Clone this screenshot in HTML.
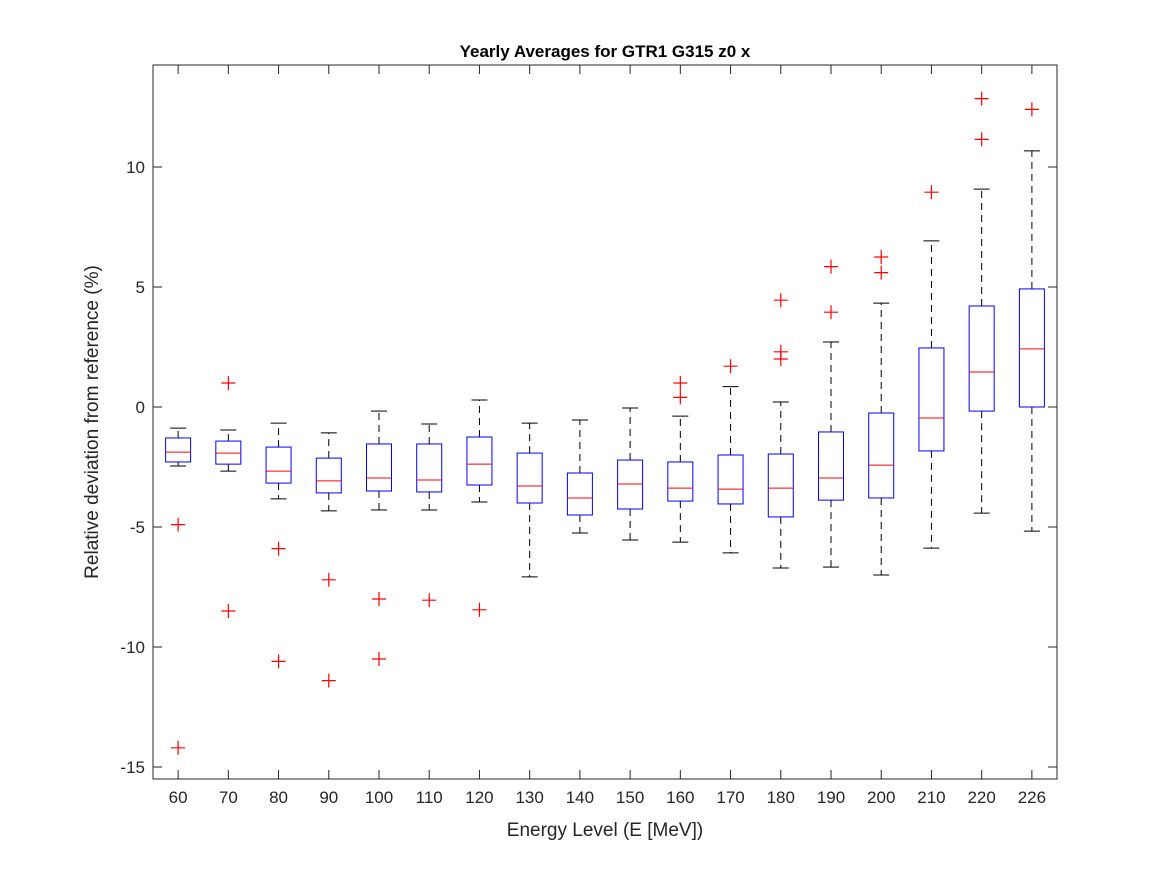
<!DOCTYPE html>
<html><head><meta charset="utf-8"><style>
body{margin:0;background:#fff;}
svg{display:block;font-family:"Liberation Sans",sans-serif;}
</style></head><body>
<svg id="chart" width="1167" height="875">
<rect width="1167" height="875" fill="#fff"/>
<text x="605" y="57" text-anchor="middle" font-size="17" font-weight="bold" fill="#000">Yearly Averages for GTR1 G315 z0 x</text>
<g id="plot"></g>
<text x="605" y="836" text-anchor="middle" font-size="19" fill="#262626">Energy Level (E [MeV])</text>
<text transform="translate(98,422) rotate(-90)" text-anchor="middle" font-size="19" fill="#262626">Relative deviation from reference (%)</text>
</svg>
<script>
const categories=["60","70","80","90","100","110","120","130","140","150","160","170","180","190","200","210","220","226"];
const whiskerLow=[-2.46,-2.67,-3.83,-4.33,-4.29,-4.29,-3.96,-7.08,-5.25,-5.54,-5.63,-6.08,-6.71,-6.67,-7.0,-5.88,-4.42,-5.17];
const q1=[-2.29,-2.38,-3.17,-3.58,-3.5,-3.54,-3.25,-4.0,-4.5,-4.25,-3.92,-4.04,-4.58,-3.88,-3.79,-1.83,-0.17,0.0];
const medians=[-1.88,-1.92,-2.67,-3.08,-2.96,-3.04,-2.38,-3.29,-3.79,-3.21,-3.38,-3.42,-3.38,-2.96,-2.42,-0.46,1.46,2.42];
const q3=[-1.29,-1.42,-1.67,-2.13,-1.54,-1.54,-1.25,-1.92,-2.75,-2.21,-2.29,-2.0,-1.96,-1.04,-0.25,2.46,4.21,4.92];
const whiskerHigh=[-0.88,-0.96,-0.67,-1.08,-0.17,-0.71,0.29,-0.67,-0.54,-0.04,-0.38,0.85,0.21,2.71,4.33,6.92,9.08,10.67];
const outliers=[[-4.9,-14.2],[1.0,-8.5],[-5.9,-10.6],[-7.2,-11.4],[-8.0,-10.5],[-8.05],[-8.45],[],[],[],[1.0,0.4],[1.7],[2.0,2.3,4.45],[3.95,5.85],[5.6,6.25],[8.95],[11.15,12.85],[12.4]];
const yTicks=[-15,-10,-5,0,5,10];

const L=153,R=1057,T=65,B=779,yMin=-15.5,yMax=14.25;
const xS=i=>L+(i+0.5)*(R-L)/categories.length;
const yS=v=>B-(v-yMin)/(yMax-yMin)*(B-T);
const g=document.getElementById('plot');
const NS='http://www.w3.org/2000/svg';
function mk(tag,attrs,parent){const e=document.createElementNS(NS,tag);for(const k in attrs)e.setAttribute(k,attrs[k]);(parent||g).appendChild(e);return e;}

const frame=mk('rect',{x:L,y:T,width:R-L,height:B-T,fill:'none',stroke:'#262626','stroke-width':1});



yTicks.forEach(v=>{
  const y=yS(v);
  mk('line',{x1:L,x2:L+9,y1:y,y2:y,stroke:'#262626'});
  mk('line',{x1:R,x2:R-9,y1:y,y2:y,stroke:'#262626'});
  const t=mk('text',{x:L-8,y:y+6,'text-anchor':'end','font-size':17,fill:'#262626'});
  t.textContent=v;
  
  
});

categories.forEach((c,i)=>{
  const x=xS(i);
  mk('line',{x1:x,x2:x,y1:B,y2:B-9,stroke:'#262626'});
  mk('line',{x1:x,x2:x,y1:T,y2:T+9,stroke:'#262626'});
  const t=mk('text',{x:x,y:B+24,'text-anchor':'middle','font-size':17,fill:'#262626'});
  t.textContent=c;
  
  

  const grp=mk('g',{});
  
  
  const hw=12.5,cw=8;
  mk('line',{x1:x,x2:x,y1:yS(q3[i]),y2:yS(whiskerHigh[i]),stroke:'#000','stroke-dasharray':'7,5'},grp);
  mk('line',{x1:x,x2:x,y1:yS(q1[i]),y2:yS(whiskerLow[i]),stroke:'#000','stroke-dasharray':'7,5'},grp);
  mk('line',{x1:x-cw,x2:x+cw,y1:yS(whiskerHigh[i]),y2:yS(whiskerHigh[i]),stroke:'#000'},grp);
  mk('line',{x1:x-cw,x2:x+cw,y1:yS(whiskerLow[i]),y2:yS(whiskerLow[i]),stroke:'#000'},grp);
  mk('rect',{x:x-hw,y:yS(q3[i]),width:2*hw,height:yS(q1[i])-yS(q3[i]),fill:'none',stroke:'#0000ff'},grp);
  mk('line',{x1:x-hw,x2:x+hw,y1:yS(medians[i]),y2:yS(medians[i]),stroke:'#ff0000'},grp);
  outliers[i].forEach(v=>{
    const y=yS(v);
    const o=mk('path',{d:`M${x-7},${y}H${x+7}M${x},${y-7}V${y+7}`,stroke:'#ff0000','stroke-width':1.2,fill:'none'},grp);
    
    
  });
});
</script>
</body></html>
